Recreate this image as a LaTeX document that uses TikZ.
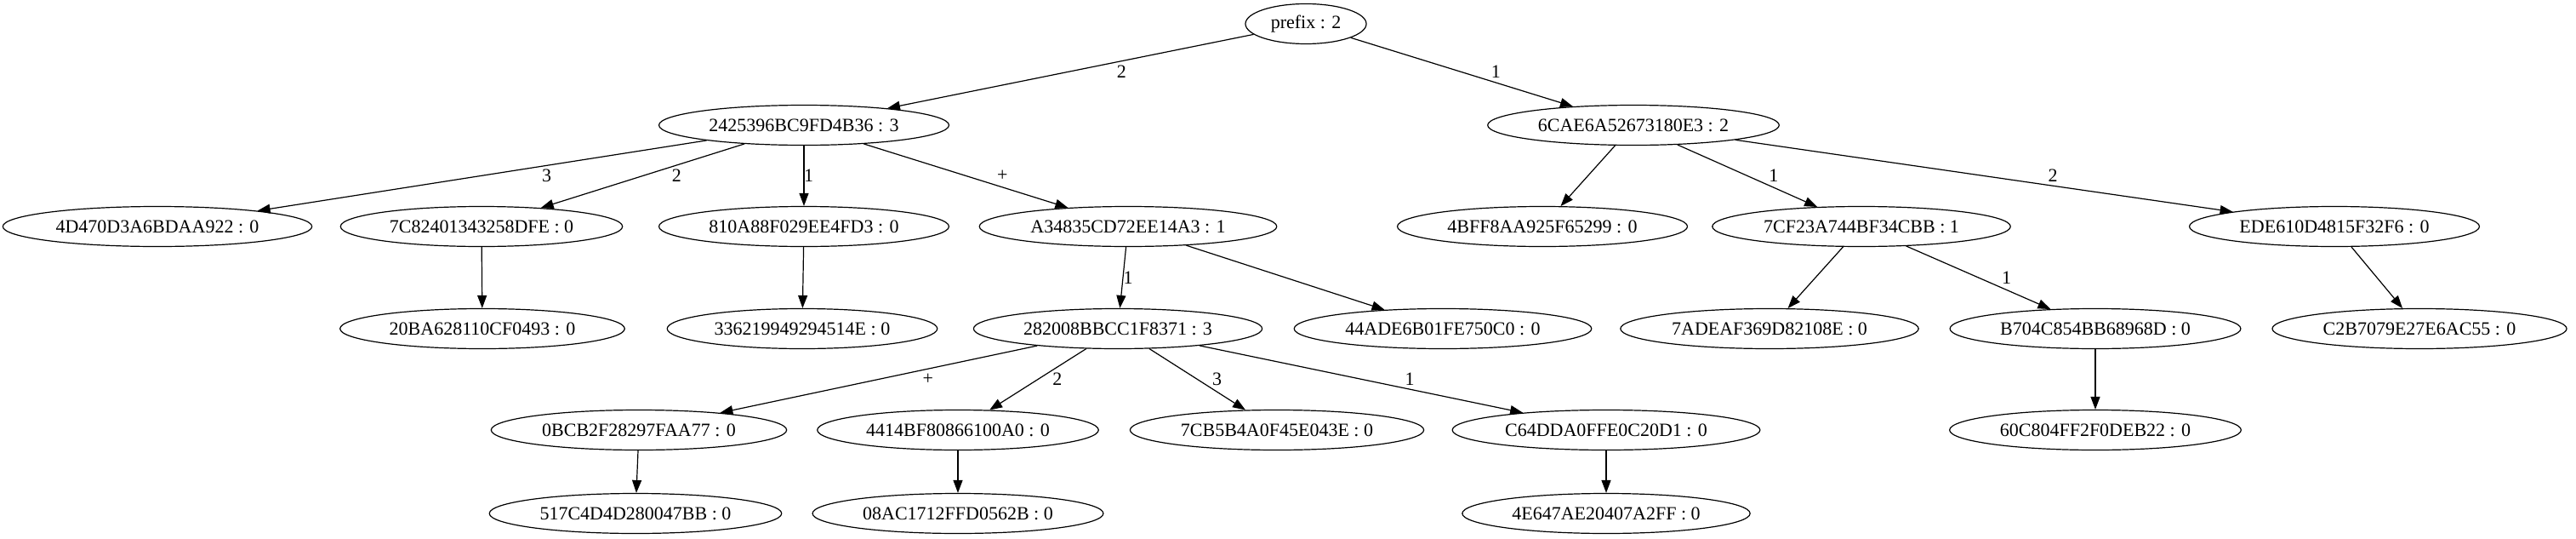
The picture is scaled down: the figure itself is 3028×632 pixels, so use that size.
\documentclass[tikz,border=0pt]{standalone}
\usepackage{fontspec}
\setmainfont{Liberation Serif}
\usetikzlibrary{shapes.geometric}
\usetikzlibrary{arrows.meta}

\begin{document}
\begin{tikzpicture}[x=1pt,y={(0pt,-1pt)},->,>={Triangle[length=15pt,width=11pt]},line width=1.2pt,
  key/.style={draw,ellipse,minimum height=47pt,inner xsep=9pt,inner ysep=2pt,font=\fontsize{22}{26}\selectfont},
  lbl/.style={font=\fontsize{22}{26}\selectfont,inner sep=0pt}]
\useasboundingbox (0,0) rectangle (3028,632);

\node[key] (pre) at (1535,28) {prefix : 2};

\node[key] (a) at (945,147) {2425396BC9FD4B36 : 3};
\node[key] (b) at (1920,147) {6CAE6A52673180E3 : 2};

\node[key] (a3) at (185,266) {4D470D3A6BDAA922 : 0};
\node[key] (a2) at (566,266) {7C82401343258DFE : 0};
\node[key] (a1) at (945,266) {810A88F029EE4FD3 : 0};
\node[key] (ap) at (1326,266) {A34835CD72EE14A3 : 1};
\node[key] (b0) at (1813,266) {4BFF8AA925F65299 : 0};
\node[key] (b1) at (2188,266) {7CF23A744BF34CBB : 1};
\node[key] (b2) at (2744,266) {EDE610D4815F32F6 : 0};

\node[key] (a2x) at (567,386) {20BA628110CF0493 : 0};
\node[key] (a1x) at (943,386) {336219949294514E : 0};
\node[key] (c) at (1314,386) {282008BBCC1F8371 : 3};
\node[key] (apx) at (1696,386) {44ADE6B01FE750C0 : 0};
\node[key] (b1x) at (2080,386) {7ADEAF369D82108E : 0};
\node[key] (b11) at (2463,386) {B704C854BB68968D : 0};
\node[key] (b2x) at (2844,386) {C2B7079E27E6AC55 : 0};

\node[key] (cp) at (751,505) {0BCB2F28297FAA77 : 0};
\node[key] (c2) at (1126,505) {4414BF80866100A0 : 0};
\node[key] (c3) at (1501,505) {7CB5B4A0F45E043E : 0};
\node[key] (c1) at (1888,505) {C64DDA0FFE0C20D1 : 0};
\node[key] (b11x) at (2463,505) {60C804FF2F0DEB22 : 0};

\node[key] (cpx) at (747,603) {517C4D4D280047BB : 0};
\node[key] (c2x) at (1126,603) {08AC1712FFD0562B : 0};
\node[key] (c1x) at (1888,603) {4E647AE20407A2FF : 0};

\draw (pre) -- node[lbl,xshift=60pt] {2} (a);
\draw (pre) -- node[lbl,xshift=40pt] {1} (b);

\draw (a) -- node[lbl,xshift=76pt] {3} (a3);
\draw (a) -- node[lbl,xshift=40pt] {2} (a2);
\draw (a) -- node[lbl,xshift=5.5pt] {1} (a1);
\draw (a) -- node[lbl,xshift=43pt] {+} (ap);
\draw (b) -- (b0);
\draw (b) -- node[lbl,xshift=31pt] {1} (b1);
\draw (b) -- node[lbl,xshift=81pt] {2} (b2);

\draw (a2) -- (a2x);
\draw (a1) -- (a1x);
\draw (ap) -- node[lbl,xshift=6pt] {1} (c);
\draw (ap) -- (apx);
\draw (b1) -- (b1x);
\draw (b1) -- node[lbl,xshift=33pt] {1} (b11);
\draw (b2) -- (b2x);

\draw (c) -- node[lbl,xshift=58pt] {+} (cp);
\draw (c) -- node[lbl,xshift=23pt] {2} (c2);
\draw (c) -- node[lbl,xshift=23pt] {3} (c3);
\draw (c) -- node[lbl,xshift=57pt] {1} (c1);
\draw (b11) -- (b11x);

\draw (cp) -- (cpx);
\draw (c2) -- (c2x);
\draw (c1) -- (c1x);
\end{tikzpicture}
\end{document}
